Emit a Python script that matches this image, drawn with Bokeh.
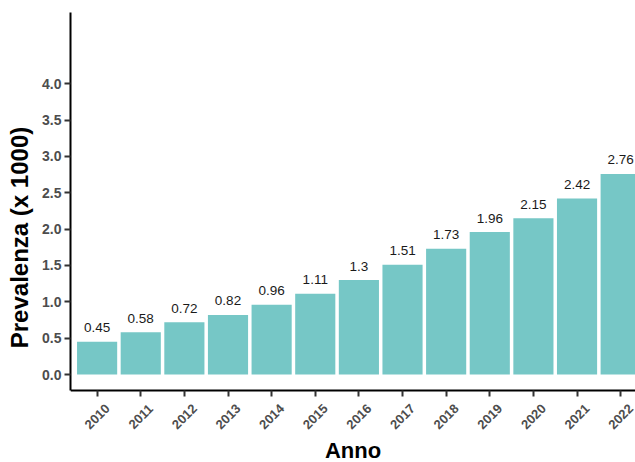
from bokeh.plotting import figure
from bokeh.models import ColumnDataSource, FixedTicker, Range1d, PrintfTickFormatter
from bokeh.embed import file_html
from bokeh.resources import INLINE
from bokeh.core.properties import value
import math

years = [2010, 2011, 2012, 2013, 2014, 2015, 2016, 2017, 2018, 2019, 2020, 2021, 2022]
year_labels = ["2010", "2011", "2012", "2013", "2014", "2015", "2016", "2017", "2018", "2019", "2020", "2021", "2022"]
prevalence = [0.45, 0.58, 0.72, 0.82, 0.96, 1.11, 1.3, 1.51, 1.73, 1.96, 2.15, 2.42, 2.76]
labels = ["0.45", "0.58", "0.72", "0.82", "0.96", "1.11", "1.3", "1.51", "1.73", "1.96", "2.15", "2.42", "2.76"]
y_ticks = [0.0, 0.5, 1.0, 1.5, 2.0, 2.5, 3.0, 3.5, 4.0]

x_lo, x_hi = 2009.39, 2022.34
y_axis_lo, y_hi = -0.22, 4.98
y_frame_lo = -1.21   # frame extends below the x axis to hold the rotated year labels

src = ColumnDataSource(dict(x=years, top=prevalence, lab=labels))
ysrc = ColumnDataSource(dict(x=years, y=[y_axis_lo] * len(years), lab=year_labels))
tsrc = ColumnDataSource(dict(x=[(x_lo + x_hi) / 2], y=[y_axis_lo], lab=["Anno"]))

p = figure(width=635, height=462, output_backend="svg", toolbar_location=None,
           x_range=Range1d(x_lo, x_hi), y_range=Range1d(y_frame_lo, y_hi),
           min_border_left=70, min_border_top=12, min_border_right=0,
           min_border_bottom=0)

p.vbar(x="x", top="top", bottom=0, width=0.92, source=src,
       fill_color="#76c7c6", line_color=None)
p.text(x="x", y="top", text="lab", source=src, text_align="center",
       text_baseline="middle", y_offset=-14, text_font_size="13.5px",
       text_font=value("Liberation Sans"), text_color="#1a1a1a")

# rotated year labels, centred under each tick
p.text(x="x", y="y", text="lab", source=ysrc, angle=math.pi / 4,
       text_align="center", text_baseline="middle", y_offset=26,
       text_font=value("Liberation Sans"), text_font_style="bold",
       text_font_size="13px", text_color="#4d4d4d")
# x axis title
p.text(x="x", y="y", text="lab", source=tsrc, text_align="center",
       text_baseline="middle", y_offset=60,
       text_font=value("Liberation Sans"), text_font_style="bold",
       text_font_size="22px", text_color="black")

p.grid.visible = False
p.outline_line_color = None
p.background_fill_color = "white"

for ax in (p.xaxis[0], p.yaxis[0]):
    ax.axis_line_color = "black"
    ax.axis_line_width = 2
    ax.major_tick_line_color = "#333333"
    ax.major_tick_line_width = 2
    ax.major_tick_out = 6
    ax.major_tick_in = 0
    ax.minor_tick_line_color = None
    ax.major_label_text_font = "Liberation Sans"
    ax.major_label_text_font_style = "bold"
    ax.major_label_text_font_size = "14px"
    ax.major_label_text_color = "#4d4d4d"
    ax.axis_label_text_font = "Liberation Sans"
    ax.axis_label_text_font_style = "bold"
    ax.axis_label_text_color = "black"

xa = p.xaxis[0]
xa.ticker = FixedTicker(ticks=years)
xa.fixed_location = y_axis_lo
xa.major_label_overrides = {y: "" for y in years}
xa.major_label_standoff = 0

ya = p.yaxis[0]
ya.ticker = FixedTicker(ticks=y_ticks)
ya.bounds = (y_axis_lo, y_hi)
ya.formatter = PrintfTickFormatter(format="%.1f")
ya.axis_label = "Prevalenza (x 1000)"
ya.axis_label_text_font_size = "24px"
ya.axis_label_standoff = 6
ya.major_label_standoff = 3

open("out.html", "w").write(file_html(p, INLINE))
